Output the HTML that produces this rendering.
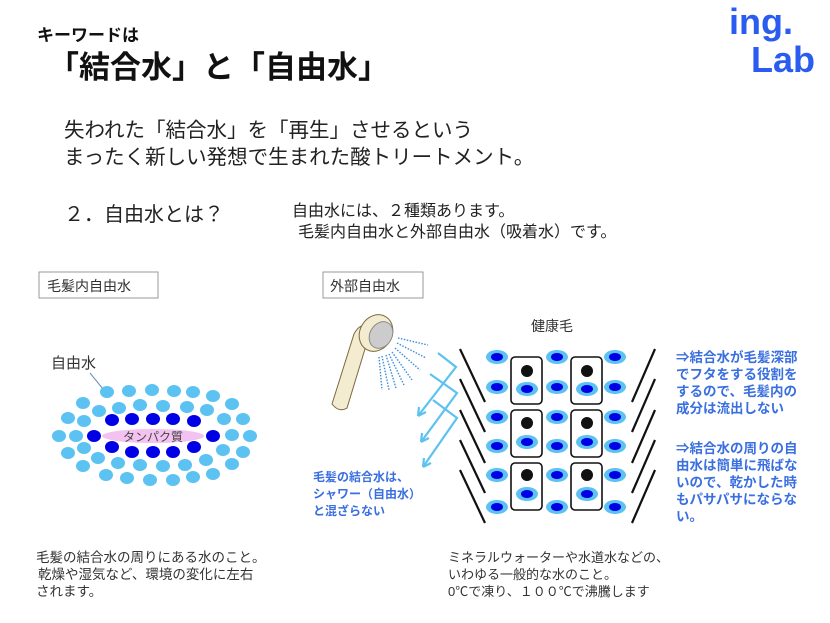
<!DOCTYPE html>
<html><head><meta charset="utf-8"><style>
html,body{margin:0;padding:0;background:#fff;}
svg{display:block;}
text{font-family:"Liberation Sans","Noto Sans CJK JP",sans-serif;}
</style></head><body>
<svg width="830" height="623" viewBox="0 0 830 623" xmlns="http://www.w3.org/2000/svg">
<rect width="830" height="623" fill="#fff"/>
<!-- logo -->
<text x="729" y="34" font-size="36" font-weight="bold" fill="#2b5cf0" font-family="Liberation Sans,sans-serif">ing.</text>
<text x="751" y="72" font-size="36" font-weight="bold" fill="#2b5cf0" font-family="Liberation Sans,sans-serif">Lab</text>
<!-- titles -->
<text x="37" y="41" font-size="17" font-weight="bold" fill="#111">キーワードは</text>
<text x="48" y="78" font-size="31" font-weight="bold" fill="#111">「結合水」と「自由水」</text>
<text x="64" y="137" font-size="20.5" fill="#222">失われた「結合水」を「再生」させるという</text>
<text x="64" y="164" font-size="20.5" fill="#222">まったく新しい発想で生まれた酸トリートメント。</text>
<text x="64" y="221" font-size="20" fill="#222">２．自由水とは？</text>
<text x="292" y="216" font-size="16" fill="#222">自由水には、２種類あります。</text>
<text x="298" y="237" font-size="16" fill="#222">毛髪内自由水と外部自由水（吸着水）です。</text>
<!-- labels boxes -->
<rect x="39" y="272" width="119" height="26" fill="#fff" stroke="#999"/>
<text x="47" y="291" font-size="14" fill="#333">毛髪内自由水</text>
<rect x="323" y="272" width="100" height="26" fill="#fff" stroke="#999"/>
<text x="330" y="291" font-size="14" fill="#333">外部自由水</text>
<!-- left diagram -->
<text x="51" y="368" font-size="15" fill="#333">自由水</text>
<line x1="90" y1="373" x2="103" y2="389" stroke="#6a8ab0" stroke-width="1"/>
<g fill="#5cc2f2">
<ellipse cx="107" cy="392" rx="7" ry="6"/><ellipse cx="129" cy="391" rx="7" ry="6"/><ellipse cx="152" cy="390" rx="7" ry="6"/><ellipse cx="174" cy="391" rx="7" ry="6"/><ellipse cx="193" cy="392" rx="7" ry="6"/><ellipse cx="213" cy="396" rx="7" ry="6"/>
<ellipse cx="83" cy="403" rx="7" ry="6"/><ellipse cx="99" cy="411" rx="7" ry="6"/><ellipse cx="119" cy="408" rx="7" ry="6"/><ellipse cx="140" cy="405" rx="7" ry="6"/><ellipse cx="163" cy="406" rx="7" ry="6"/><ellipse cx="187" cy="407" rx="7" ry="6"/><ellipse cx="207" cy="410" rx="7" ry="6"/><ellipse cx="232" cy="404" rx="7" ry="6"/>
<ellipse cx="68" cy="418" rx="7" ry="6"/><ellipse cx="84" cy="421" rx="7" ry="6"/><ellipse cx="224" cy="419" rx="7" ry="6"/><ellipse cx="243" cy="419" rx="7" ry="6"/>
<ellipse cx="59" cy="436" rx="7" ry="6"/><ellipse cx="76" cy="436" rx="7" ry="6"/><ellipse cx="232" cy="435" rx="7" ry="6"/><ellipse cx="250" cy="436" rx="7" ry="6"/>
<ellipse cx="68" cy="453" rx="7" ry="6"/><ellipse cx="84" cy="448" rx="7" ry="6"/><ellipse cx="223" cy="450" rx="7" ry="6"/><ellipse cx="243" cy="452" rx="7" ry="6"/>
<ellipse cx="83" cy="466" rx="7" ry="6"/><ellipse cx="98" cy="458" rx="7" ry="6"/><ellipse cx="118" cy="463" rx="7" ry="6"/><ellipse cx="140" cy="465" rx="7" ry="6"/><ellipse cx="163" cy="466" rx="7" ry="6"/><ellipse cx="185" cy="465" rx="7" ry="6"/><ellipse cx="206" cy="460" rx="7" ry="6"/><ellipse cx="232" cy="464" rx="7" ry="6"/>
<ellipse cx="106" cy="475" rx="7" ry="6"/><ellipse cx="127" cy="478" rx="7" ry="6"/><ellipse cx="150" cy="480" rx="7" ry="6"/><ellipse cx="173" cy="480" rx="7" ry="6"/><ellipse cx="193" cy="477" rx="7" ry="6"/><ellipse cx="213" cy="474" rx="7" ry="6"/>
</g>
<g fill="#0000e6">
<ellipse cx="112" cy="420" rx="7" ry="6"/><ellipse cx="132" cy="419" rx="7" ry="6"/><ellipse cx="153" cy="419" rx="7" ry="6"/><ellipse cx="173" cy="419" rx="7" ry="6"/><ellipse cx="194" cy="421" rx="7" ry="6"/>
<ellipse cx="94" cy="436" rx="7" ry="6"/><ellipse cx="213" cy="436" rx="7" ry="6"/>
<ellipse cx="112" cy="447" rx="7" ry="6"/><ellipse cx="132" cy="452" rx="7" ry="6"/><ellipse cx="153" cy="452" rx="7" ry="6"/><ellipse cx="173" cy="452" rx="7" ry="6"/><ellipse cx="194" cy="447" rx="7" ry="6"/>
</g>
<ellipse cx="153" cy="436" rx="51" ry="7" fill="#f3c2f0"/>
<text x="153" y="441" font-size="12" fill="#444" text-anchor="middle">タンパク質</text>
<!-- shower -->
<path d="M332 404 L354 334 Q360 322 372 326 L347 408 Q339 413 332 404 Z" fill="#f4ecd0" stroke="#7a6a40" stroke-width="1"/>
<ellipse cx="376" cy="333" rx="16" ry="19" transform="rotate(30 376 333)" fill="#f4ecd0" stroke="#7a6a40"/>
<ellipse cx="381" cy="335" rx="11" ry="14" transform="rotate(30 381 335)" fill="#ccc" stroke="#888"/>
<g stroke="#3a8ee0" stroke-width="1.4" stroke-dasharray="1.5 1.5">
<line x1="398" y1="338" x2="428" y2="345"/><line x1="397" y1="343" x2="426" y2="358"/><line x1="395" y1="348" x2="420" y2="370"/><line x1="392" y1="352" x2="412" y2="380"/><line x1="389" y1="354" x2="404" y2="385"/><line x1="386" y1="355" x2="396" y2="388"/><line x1="382" y1="356" x2="389" y2="390"/><line x1="379" y1="357" x2="382" y2="390"/>
</g>
<g stroke="#5cc2f2" stroke-width="2.2" fill="none">
<path d="M438 353 L456 367 L418 416"/><path d="M418 416 l1 -9 M418 416 l8 -4"/>
<path d="M430 374 L457 393 L421 442"/><path d="M421 442 l1 -9 M421 442 l8 -4"/>
<path d="M433 400 L457 418 L423 467"/><path d="M423 467 l1 -9 M423 467 l8 -4"/>
</g>
<text x="313" y="481" font-size="12" font-weight="bold" fill="#3a6fe0">毛髪の結合水は、</text>
<text x="313" y="498" font-size="12" font-weight="bold" fill="#3a6fe0">シャワー（自由水）</text>
<text x="313" y="515" font-size="12" font-weight="bold" fill="#3a6fe0">と混ざらない</text>
<!-- healthy hair -->
<text x="531" y="331" font-size="14" fill="#333">健康毛</text>
<g stroke="#111" stroke-width="2.2">
<line x1="460" y1="349" x2="485" y2="402"/><line x1="460" y1="379" x2="485" y2="432"/><line x1="460" y1="410" x2="485" y2="463"/><line x1="460" y1="440" x2="485" y2="493"/><line x1="460" y1="470" x2="485" y2="523"/>
<line x1="655" y1="349" x2="632" y2="402"/><line x1="655" y1="379" x2="632" y2="432"/><line x1="655" y1="410" x2="632" y2="463"/><line x1="655" y1="440" x2="632" y2="493"/><line x1="655" y1="470" x2="632" y2="523"/>
</g>
<g fill="#fff" stroke="#111" stroke-width="1.6">
<rect x="511" y="357" width="31" height="47" rx="4"/><rect x="571" y="357" width="31" height="47" rx="4"/>
<rect x="511" y="410" width="31" height="47" rx="4"/><rect x="571" y="410" width="31" height="47" rx="4"/>
<rect x="511" y="463" width="31" height="47" rx="4"/><rect x="571" y="463" width="31" height="47" rx="4"/>
</g>
<g fill="#111">
<circle cx="527" cy="371" r="6"/><circle cx="587" cy="371" r="6"/><circle cx="527" cy="423" r="6"/><circle cx="587" cy="423" r="6"/><circle cx="527" cy="475" r="6"/><circle cx="587" cy="475" r="6"/>
</g>
<g fill="#5cc2f2">
<ellipse cx="497" cy="357" rx="11" ry="7"/><ellipse cx="557" cy="357" rx="11" ry="7"/><ellipse cx="615" cy="357" rx="11" ry="7"/>
<ellipse cx="497" cy="387" rx="11" ry="7"/><ellipse cx="557" cy="387" rx="11" ry="7"/><ellipse cx="615" cy="387" rx="11" ry="7"/>
<ellipse cx="497" cy="417" rx="11" ry="7"/><ellipse cx="557" cy="417" rx="11" ry="7"/><ellipse cx="615" cy="417" rx="11" ry="7"/>
<ellipse cx="497" cy="446" rx="11" ry="7"/><ellipse cx="557" cy="446" rx="11" ry="7"/><ellipse cx="615" cy="446" rx="11" ry="7"/>
<ellipse cx="497" cy="475" rx="11" ry="7"/><ellipse cx="557" cy="475" rx="11" ry="7"/><ellipse cx="615" cy="475" rx="11" ry="7"/>
<ellipse cx="497" cy="507" rx="11" ry="7"/><ellipse cx="557" cy="507" rx="11" ry="7"/><ellipse cx="615" cy="507" rx="11" ry="7"/>
<ellipse cx="527" cy="389" rx="11" ry="7"/><ellipse cx="587" cy="389" rx="11" ry="7"/>
<ellipse cx="527" cy="442" rx="11" ry="7"/><ellipse cx="587" cy="442" rx="11" ry="7"/>
<ellipse cx="527" cy="494" rx="11" ry="7"/><ellipse cx="587" cy="494" rx="11" ry="7"/>
</g>
<g fill="#0000e6">
<ellipse cx="497" cy="357" rx="6" ry="4"/><ellipse cx="557" cy="357" rx="6" ry="4"/><ellipse cx="615" cy="357" rx="6" ry="4"/>
<ellipse cx="497" cy="387" rx="6" ry="4"/><ellipse cx="557" cy="387" rx="6" ry="4"/><ellipse cx="615" cy="387" rx="6" ry="4"/>
<ellipse cx="497" cy="417" rx="6" ry="4"/><ellipse cx="557" cy="417" rx="6" ry="4"/><ellipse cx="615" cy="417" rx="6" ry="4"/>
<ellipse cx="497" cy="446" rx="6" ry="4"/><ellipse cx="557" cy="446" rx="6" ry="4"/><ellipse cx="615" cy="446" rx="6" ry="4"/>
<ellipse cx="497" cy="475" rx="6" ry="4"/><ellipse cx="557" cy="475" rx="6" ry="4"/><ellipse cx="615" cy="475" rx="6" ry="4"/>
<ellipse cx="497" cy="507" rx="6" ry="4"/><ellipse cx="557" cy="507" rx="6" ry="4"/><ellipse cx="615" cy="507" rx="6" ry="4"/>
<ellipse cx="527" cy="389" rx="6" ry="4"/><ellipse cx="587" cy="389" rx="6" ry="4"/>
<ellipse cx="527" cy="442" rx="6" ry="4"/><ellipse cx="587" cy="442" rx="6" ry="4"/>
<ellipse cx="527" cy="494" rx="6" ry="4"/><ellipse cx="587" cy="494" rx="6" ry="4"/>
</g>
<g font-size="13.5" font-weight="bold" fill="#3a6fe0">
<text x="676" y="362">⇒結合水が毛髪深部</text>
<text x="676" y="379">でフタをする役割を</text>
<text x="676" y="396">するので、毛髪内の</text>
<text x="676" y="413">成分は流出しない</text>
<text x="676" y="453">⇒結合水の周りの自</text>
<text x="676" y="470">由水は簡単に飛ばな</text>
<text x="676" y="487">いので、乾かした時</text>
<text x="676" y="504">もパサパサにならな</text>
<text x="676" y="521">い。</text>
</g>
<g font-size="13.5" fill="#333">
<text x="36" y="562">毛髪の結合水の周りにある水のこと。</text>
<text x="38" y="579">乾燥や湿気など、環境の変化に左右</text>
<text x="36" y="596">されます。</text>
</g>
<g font-size="13" fill="#333">
<text x="448" y="562">ミネラルウォーターや水道水などの、</text>
<text x="448" y="579">いわゆる一般的な水のこと。</text>
<text x="448" y="596">0℃で凍り、１００℃で沸騰します</text>
</g>
</svg>
</body></html>
